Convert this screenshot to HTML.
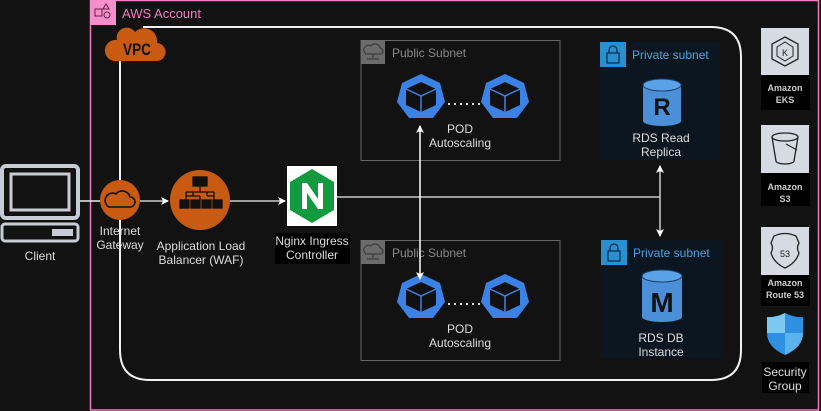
<!DOCTYPE html>
<html><head><meta charset="utf-8"><style>
html,body{margin:0;padding:0;background:#121212;}
svg{display:block;font-family:"Liberation Sans",sans-serif;}
</style></head><body>
<svg width="821" height="411" viewBox="0 0 821 411" xmlns="http://www.w3.org/2000/svg">
<defs>
<marker id="ar" markerWidth="8" markerHeight="8" refX="7" refY="4" orient="auto-start-reverse" markerUnits="userSpaceOnUse"><path d="M0,0 L8,4 L0,8 L2,4 Z" fill="#fff"/></marker>
</defs>
<rect width="821" height="411" fill="#121212"/>
<!-- AWS account -->
<rect x="90.5" y="0.5" width="728" height="409.5" fill="none" stroke="#f07cc0" stroke-width="1.5"/>
<rect x="90" y="0" width="26" height="25" fill="#f48fcc"/>
<rect x="95" y="9" width="7" height="7" fill="none" stroke="#6a1f4a" stroke-width="1"/>
<path d="M106,4 l3,5 h-6z" fill="none" stroke="#6a1f4a"/><circle cx="107" cy="15" r="3" fill="none" stroke="#6a1f4a"/>
<text x="122" y="18" fill="#f07cc0" font-size="13">AWS Account</text>
<!-- VPC -->
<path d="M143,27 H711 Q741,27 741,57 V350 Q741,380 711,380 H150 Q120,380 120,350 V55" fill="none" stroke="#f0f0f0" stroke-width="2"/>
<path d="M114,61 h42 a9,9 0 0 0 1,-18 a13,13 0 0 0 -22,-11 a10,10 0 0 0 -18,8 a10,10 0 0 0 -3,21z" fill="#c95a12"/>
<text x="137" y="55" fill="#111" font-size="17" font-weight="bold" text-anchor="middle" textLength="28" lengthAdjust="spacingAndGlyphs">VPC</text>
<!-- Client -->
<rect x="2" y="166" width="76" height="52" rx="4" fill="none" stroke="#c8ccd4" stroke-width="4"/>
<rect x="11" y="174" width="58" height="36" fill="none" stroke="#c8ccd4" stroke-width="3"/>
<rect x="2" y="224" width="76" height="17" rx="3" fill="none" stroke="#c8ccd4" stroke-width="3"/>
<rect x="52" y="229" width="21" height="7" fill="#c8ccd4"/>
<text x="40" y="260" fill="#ddd" font-size="12" text-anchor="middle">Client</text>
<line x1="80" y1="201" x2="101" y2="201" stroke="#eee" stroke-width="1.5"/>
<!-- IGW -->
<circle cx="120" cy="200" r="20" fill="#c95a12"/>
<path d="M109,207 h21 a5,5 0 0 0 0,-10 a8,8 0 0 0 -14,-3 a6,6 0 0 0 -7,13z" fill="none" stroke="#111" stroke-width="1.6"/>
<text x="120" y="235" fill="#ddd" font-size="12" text-anchor="middle">Internet</text>
<text x="120" y="249" fill="#ddd" font-size="12" text-anchor="middle">Gateway</text>
<line x1="140" y1="201" x2="168" y2="201" stroke="#ccc" stroke-width="1.5" marker-end="url(#ar)"/>
<!-- ALB -->
<circle cx="200" cy="200" r="30" fill="#c95a12"/>
<g fill="#111" stroke="#111" stroke-width="1.3">
<rect x="193" y="177" width="14" height="9"/>
<path d="M200,186 v6 M186,192 h28 M186,192 v8 M214,192 v8 M193,192 v4 M193,196 h-7 M193,196 h7 M207,192 v4 M207,196 h7 M200,196 v4" fill="none"/>
<rect x="180" y="200" width="9" height="8"/><rect x="191" y="200" width="9" height="8"/><rect x="202" y="200" width="9" height="8"/><rect x="213" y="200" width="9" height="8"/>
</g>
<text x="201" y="250" fill="#ddd" font-size="12" text-anchor="middle">Application Load</text>
<text x="201" y="264" fill="#ddd" font-size="12" text-anchor="middle">Balancer (WAF)</text>
<line x1="230" y1="201" x2="285" y2="201" stroke="#ccc" stroke-width="1.5" marker-end="url(#ar)"/>
<!-- Nginx -->
<rect x="287" y="166" width="50" height="60" fill="#fff"/>
<polygon points="312,169 334,182 334,210 312,223 290,210 290,182" fill="#119b3e"/>
<path d="M302,209 V183 h5 l11,16 V183 h5 v26 h-5 l-11,-16 v16z" fill="#fff"/>
<rect x="275" y="233" width="75" height="31" fill="#000"/>
<text x="312" y="245" fill="#ddd" font-size="12" text-anchor="middle">Nginx Ingress</text>
<text x="312" y="259" fill="#ddd" font-size="12" text-anchor="middle">Controller</text>
<line x1="337" y1="197" x2="660" y2="197" stroke="#eee" stroke-width="1.2"/>
<line x1="660" y1="166" x2="660" y2="236" stroke="#ccc" stroke-width="1.5" marker-start="url(#ar)" marker-end="url(#ar)"/>
<!-- Public subnets -->
<g id="ps">
<rect x="361" y="40.5" width="199" height="120" fill="none" stroke="#666" stroke-width="1"/>
<rect x="361" y="40" width="24" height="24" fill="#6b6b6b"/>
<path d="M366,54 h14 a3,3 0 0 0 0,-6 a5,5 0 0 0 -9,-2 a4,4 0 0 0 -5,8z M373,54 v4 M367,59 h12" fill="none" stroke="#333" stroke-width="1"/>
<text x="392" y="57" fill="#888" font-size="12">Public Subnet</text>
</g>
<use href="#ps" y="200"/>
<!-- pods -->
<g id="pod">
<polygon points="421,74 440,83 445,102 433,118 409,118 397,102 402,83" fill="#3b82e6"/>
<path d="M421,82 l-15,7 v16 l15,7 l15,-7 v-16z" fill="#111"/>
<path d="M406,89 l15,7 l15,-7 M421,96 v16" fill="none" stroke="#3b82e6" stroke-width="1.5"/>
</g>
<use href="#pod" x="84"/>
<line x1="448" y1="104" x2="480" y2="104" stroke="#ddd" stroke-width="2" stroke-dasharray="2,4"/>
<text x="460" y="133" fill="#ddd" font-size="12" text-anchor="middle">POD</text>
<text x="460" y="147" fill="#ddd" font-size="12" text-anchor="middle">Autoscaling</text>
<use href="#pod" y="200"/><use href="#pod" x="84" y="200"/>
<line x1="448" y1="304" x2="480" y2="304" stroke="#ddd" stroke-width="2" stroke-dasharray="2,4"/>
<text x="460" y="333" fill="#ddd" font-size="12" text-anchor="middle">POD</text>
<text x="460" y="347" fill="#ddd" font-size="12" text-anchor="middle">Autoscaling</text>
<line x1="420" y1="126" x2="420" y2="279" stroke="#fff" stroke-width="1.5" marker-start="url(#ar)" marker-end="url(#ar)"/>
<!-- Private subnets -->
<g id="pv">
<rect x="600" y="42" width="120" height="118" fill="#0c1620"/>
<rect x="600" y="42" width="26" height="25" fill="#2a8fcf"/>
<rect x="607" y="53" width="12" height="10" fill="none" stroke="#0c2a44" stroke-width="1.2"/>
<path d="M609,53 v-3 a4,4 0 0 1 8,0 v3" fill="none" stroke="#0c2a44" stroke-width="1.2"/>
<text x="632" y="59" fill="#4aa3df" font-size="12">Private subnet</text>
</g>
<use href="#pv" x="1" y="198"/>
<path d="M643,85 v36 a19,5 0 0 0 38,0 v-36z" fill="#4a8fd8"/>
<ellipse cx="662" cy="85" rx="19" ry="6" fill="#5aa2e8" stroke="#1c3e6a" stroke-width="1"/>
<text x="662" y="115" fill="#111" font-size="24" font-weight="bold" text-anchor="middle">R</text>
<text x="661" y="142" fill="#ddd" font-size="12" text-anchor="middle">RDS Read</text>
<text x="661" y="156" fill="#ddd" font-size="12" text-anchor="middle">Replica</text>
<path d="M642,276 v41 a20,5 0 0 0 40,0 v-41z" fill="#4a8fd8"/>
<ellipse cx="662" cy="276" rx="20" ry="6" fill="#5aa2e8" stroke="#1c3e6a" stroke-width="1"/>
<text x="662" y="312" fill="#111" font-size="28" font-weight="bold" text-anchor="middle">M</text>
<text x="661" y="342" fill="#ddd" font-size="12" text-anchor="middle">RDS DB</text>
<text x="661" y="356" fill="#ddd" font-size="12" text-anchor="middle">Instance</text>
<!-- right column -->
<rect x="761" y="28" width="48" height="47" fill="#d5dae3"/>
<polygon points="785,37 798,44 798,59 785,66 772,59 772,44" fill="none" stroke="#222" stroke-width="1.3"/>
<polygon points="785,42 793,47 793,56 785,61 777,56 777,47" fill="none" stroke="#222" stroke-width="1"/>
<text x="785" y="56" fill="#222" font-size="9" text-anchor="middle">K</text>
<rect x="761" y="75" width="49" height="35" fill="#000"/>
<text x="785" y="91" fill="#ccc" font-size="9" font-weight="bold" text-anchor="middle">Amazon</text>
<text x="785" y="103" fill="#ccc" font-size="9" font-weight="bold" text-anchor="middle">EKS</text>
<rect x="761" y="125" width="48" height="48" fill="#d5dae3"/>
<path d="M772,137 l4,24 a9,3 0 0 0 18,0 l4,-24" fill="none" stroke="#222" stroke-width="1.3"/>
<ellipse cx="785" cy="137" rx="13" ry="4" fill="none" stroke="#222" stroke-width="1.3"/>
<line x1="786" y1="144" x2="797" y2="150" stroke="#222"/>
<rect x="761" y="173" width="49" height="33" fill="#000"/>
<text x="785" y="190" fill="#ccc" font-size="9" font-weight="bold" text-anchor="middle">Amazon</text>
<text x="785" y="202" fill="#ccc" font-size="9" font-weight="bold" text-anchor="middle">S3</text>
<rect x="761" y="227" width="48" height="48" fill="#d5dae3"/>
<path d="M774,236 q11,-5 22,0 l3,7 q-3,5 0,10 q-3,10 -14,15 q-11,-5 -14,-15 q3,-5 0,-10z" fill="none" stroke="#222" stroke-width="1.3"/>
<text x="785" y="257" fill="#222" font-size="9" text-anchor="middle">53</text>
<rect x="761" y="275" width="49" height="31" fill="#000"/>
<text x="785" y="286" fill="#ccc" font-size="9" font-weight="bold" text-anchor="middle">Amazon</text>
<text x="785" y="298" fill="#ccc" font-size="9" font-weight="bold" text-anchor="middle">Route 53</text>
<path d="M785,313 q10,5 18,4 v16 q0,14 -18,22 q-18,-8 -18,-22 v-16 q8,1 18,-4z" fill="#2f8fe0"/>
<path d="M785,313 q-10,5 -18,4 v16 h18z" fill="#7cc8f0"/>
<path d="M785,333 h18 q0,14 -18,22z" fill="#59b4ec"/>
<rect x="762" y="362" width="47" height="31" fill="#000"/>
<text x="785" y="376" fill="#ddd" font-size="12" text-anchor="middle">Security</text>
<text x="785" y="390" fill="#ddd" font-size="12" text-anchor="middle">Group</text>
</svg>
</body></html>
